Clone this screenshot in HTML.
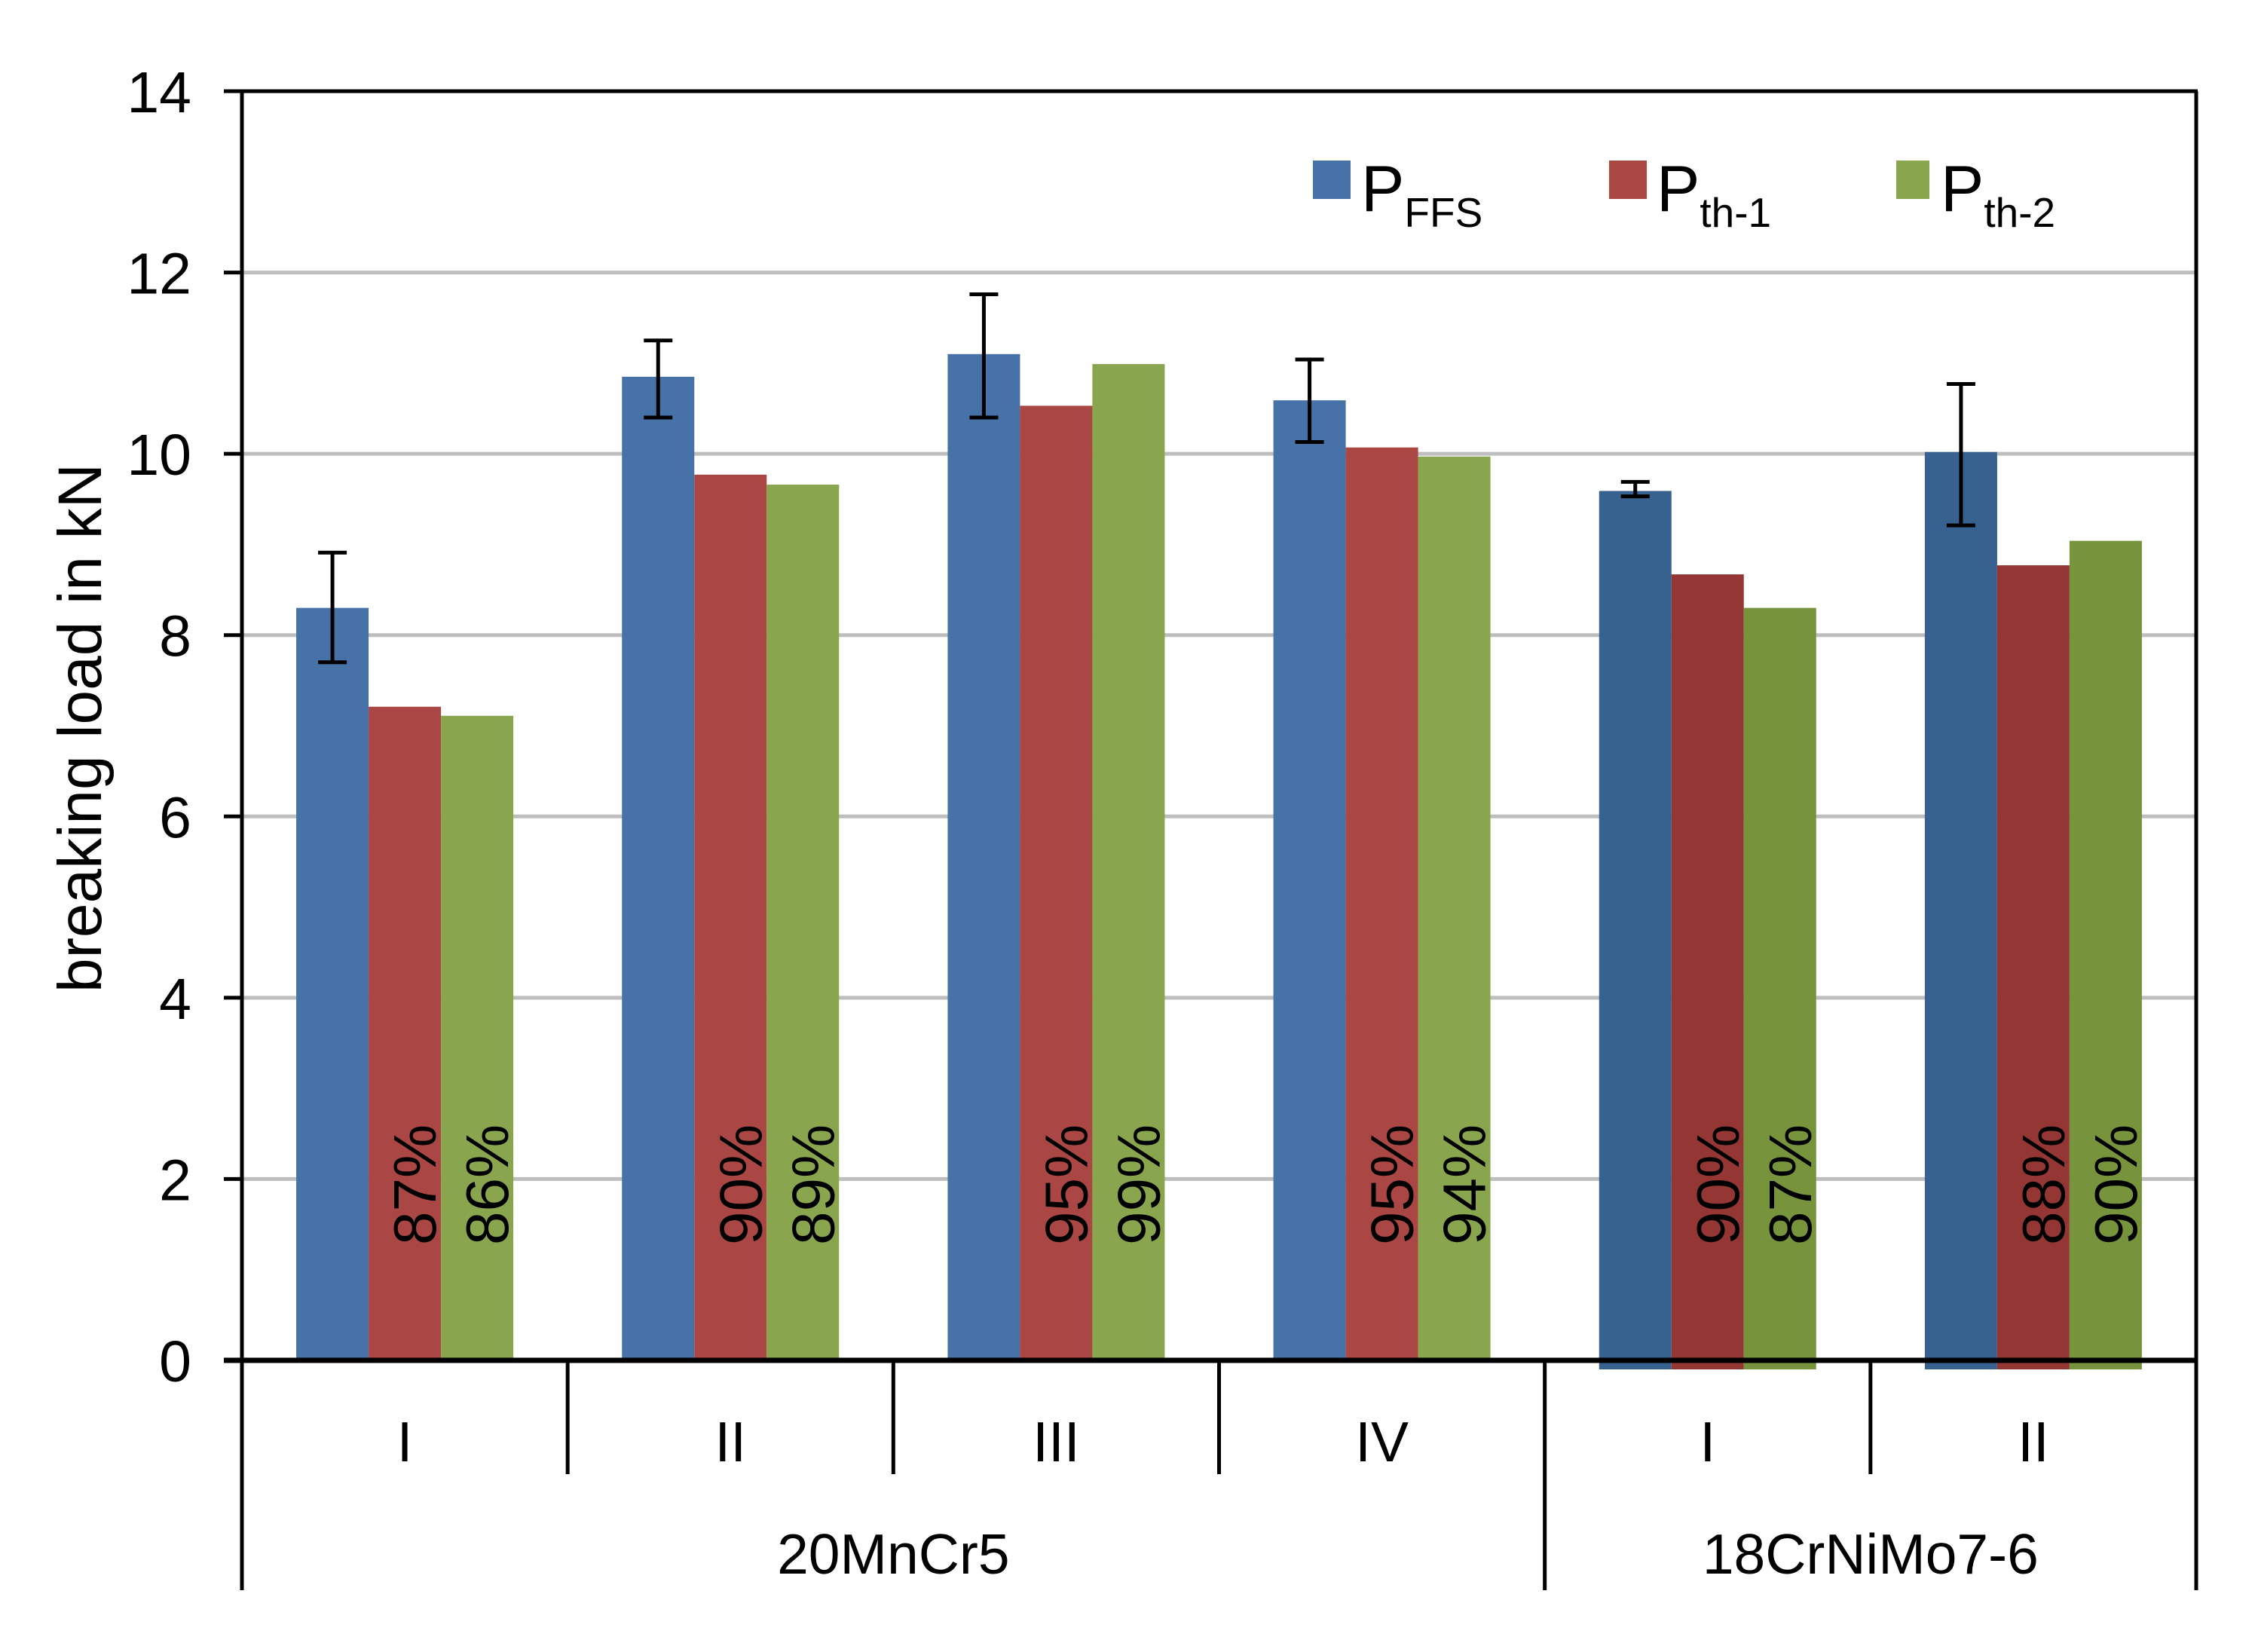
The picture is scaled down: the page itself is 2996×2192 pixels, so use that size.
<!DOCTYPE html>
<html><head><meta charset="utf-8"><style>
html,body{margin:0;padding:0;background:#fff}
svg{display:block;font-family:"Liberation Sans",Arial,sans-serif}
</style></head><body>
<svg id="chart" width="2996" height="2192" viewBox="0 0 2996 2192" xmlns="http://www.w3.org/2000/svg">
<rect width="2996" height="2192" fill="#fff"/>
<g id="grid"></g>
<g id="bars"></g>
<g id="errs"></g>
<g id="pcts"></g>
<g id="axes"></g>
<text x="0" y="0" font-size="82" text-anchor="middle" transform="translate(134,966) rotate(-90)">breaking load in kN</text>
<g>
 <g>
  <rect x="1742" y="213" width="50" height="51" fill="#4672A8"/>
  <text x="1806" y="280" font-size="86">P<tspan font-size="55" dy="21">FFS</tspan></text>
 </g>
 <g>
  <rect x="2135" y="213" width="50" height="51" fill="#AA4644"/>
  <text x="2198" y="280" font-size="86">P<tspan font-size="55" dy="21">th-1</tspan></text>
 </g>
 <g>
  <rect x="2516" y="213" width="44" height="51" fill="#89A54E"/>
  <text x="2575" y="280" font-size="86">P<tspan font-size="55" dy="21">th-2</tspan></text>
 </g>
</g>
</svg>
<script>
const categories = ["I","II","III","IV","I","II"];
const groups = ["20MnCr5","18CrNiMo7-6"];
const groupSpans = [4,2];
const pFFS = [8.30,10.85,11.10,10.59,9.59,10.02];
const pTh1 = [7.21,9.77,10.53,10.07,8.67,8.77];
const pTh2 = [7.11,9.66,10.99,9.97,8.30,9.04];
const errLow = [7.70,10.40,10.40,10.13,9.53,9.21];
const errHigh = [8.91,11.25,11.76,11.04,9.69,10.77];
const pct1 = ["87%","90%","95%","95%","90%","88%"];
const pct2 = ["86%","89%","99%","94%","87%","90%"];
const yTicks = [0,2,4,6,8,10,12,14];

const NS="http://www.w3.org/2000/svg";
const X0=321, X1=2914, Y0=1805, YTOP=121, YMAX=14;
const catW=(X1-X0)/categories.length, barW=96;
const y=v=>Y0-(v/YMAX)*(Y0-YTOP);
const cx=i=>X0+catW*(i+0.5);
function mk(tag,attrs,parent,txt){const e=document.createElementNS(NS,tag);for(const k in attrs)e.setAttribute(k,attrs[k]);if(txt!==undefined)e.textContent=txt;parent.appendChild(e);return e;}
const grid=document.getElementById('grid'),bars=document.getElementById('bars'),errs=document.getElementById('errs'),pcts=document.getElementById('pcts'),axes=document.getElementById('axes');

yTicks.forEach(t=>{
  if(t>0&&t<YMAX){const g=mk('line',{x1:X0,x2:X1,y1:y(t),y2:y(t),stroke:'#BEBEBE','stroke-width':5},grid);
  
  }
  const tk=mk('line',{x1:297,x2:X0,y1:y(t),y2:y(t),stroke:'#000','stroke-width':5},axes);
  
  
  const lb=mk('text',{x:254,y:y(t)+28,'font-size':77,'text-anchor':'end'},axes,String(t));
  
  
});

const series=[pFFS,pTh1,pTh2];
const cols=[["#4672A8","#AA4644","#89A54E"],["#37618F","#943634","#77933C"]];
categories.forEach((c,i)=>{
  const dark=i>=4;
  const left=cx(i)-barW*1.5;
  series.forEach((s,k)=>{
    const bottom=dark?Y0+12:Y0;
    const r=mk('rect',{x:left+k*barW,y:y(s[i]),width:barW,height:bottom-y(s[i]),fill:cols[dark?1:0][k]},bars);
    
    
  });
  const ex=left+barW/2;
  const eg=mk('g',{stroke:'#000','stroke-width':5},errs);
  
  
  mk('line',{x1:ex,x2:ex,y1:y(errHigh[i]),y2:y(errLow[i])},eg);
  mk('line',{x1:ex-19,x2:ex+19,y1:y(errHigh[i]),y2:y(errHigh[i])},eg);
  mk('line',{x1:ex-19,x2:ex+19,y1:y(errLow[i]),y2:y(errLow[i])},eg);
  [pct1,pct2].forEach((p,k)=>{
    const bx=left+(k+1)*barW+barW/2+41;
    const t=mk('text',{x:0,y:0,'font-size':80,transform:`translate(${bx},1652) rotate(-90)`},pcts,p[i]);
    
    
  });
  const cl=mk('text',{x:cx(i),y:1939,'font-size':75,'text-anchor':'middle'},axes,c);
  
  
});
let a=mk('line',{x1:X0,x2:X0,y1:YTOP,y2:2110,stroke:'#000','stroke-width':5},axes);


a=mk('line',{x1:X1,x2:X1,y1:YTOP,y2:2110,stroke:'#000','stroke-width':5},axes);


a=mk('line',{x1:X0-2,x2:X1+2,y1:YTOP,y2:YTOP,stroke:'#000','stroke-width':5},axes);


a=mk('line',{x1:297,x2:X1+2,y1:Y0,y2:Y0,stroke:'#000','stroke-width':7},axes);


let acc=0;
for(let i=1;i<categories.length;i++){
  const sx=X0+catW*i;
  const isGroup=(i===groupSpans[0]);
  const s=mk('line',{x1:sx,x2:sx,y1:Y0,y2:isGroup?2110:1956,stroke:'#000','stroke-width':5},axes);
  
  
}
groups.forEach((g,j)=>{
  const start=acc; acc+=groupSpans[j];
  const mid=X0+catW*(start+acc)/2;
  const t=mk('text',{x:mid,y:2088,'font-size':75,'text-anchor':'middle'},axes,g);
  
  
});
</script>
</body></html>
